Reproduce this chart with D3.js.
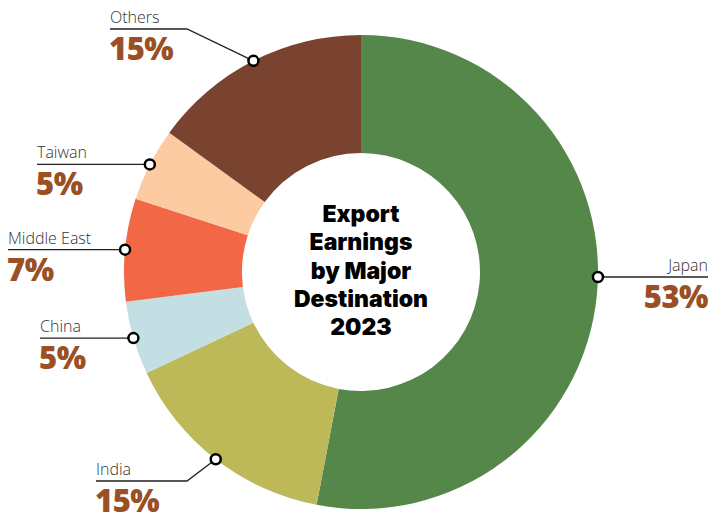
<!DOCTYPE html>
<html>
<head>
<meta charset="utf-8">
<script src="https://cdn.jsdelivr.net/npm/d3@7"></script>
<style>
  body { margin: 0; background: #fff; }
  svg { display: block; }
</style>
</head>
<body>
<script>
var w = 711;
var h = 518;

// data
var destinations = ["Japan", "India", "China", "Middle East", "Taiwan", "Others"];
var shares = [53, 15, 5, 7, 5, 15];
var colours = ["#55874a", "#bdb858", "#c4dfe3", "#f26846", "#fdcba2", "#7a4330"];
var titleLines = ["Export", "Earnings", "by Major", "Destination", "2023"];

// label layout (side, where the text sits, elbow for the leader)
var labelLayout = [
  {side: "right", x: 708, lineY: 277, nudge: -4.2},
  {side: "left", x: 96, lineY: 481, elbow: 187},
  {side: "left", x: 40, lineY: 341},
  {side: "left", x: 8, lineY: 254},
  {side: "left", x: 37, lineY: 164},
  {side: "left", x: 110, lineY: 29, elbow: 187}
];

var cx = 361, cy = 272;
var outerR = 237, innerR = 119;

var svg = d3.select("body")
    .append("svg")
    .attr("width", w)
    .attr("height", h);

var data = destinations.map(function(d, i) {
  return {name: d, value: shares[i], colour: colours[i], layout: labelLayout[i]};
});

var pie = d3.pie()
    .value(function(d) { return d.value; })
    .sort(null);

var arc = d3.arc()
    .innerRadius(innerR)
    .outerRadius(outerR);

var g = svg.append("g")
    .attr("transform", "translate(" + cx + "," + cy + ")");

var arcs = pie(data);

g.selectAll("path")
  .data(arcs)
  .enter()
  .append("path")
  .attr("d", arc)
  .attr("fill", function(d) { return d.data.colour; });

// leader lines + dots
function dotPos(d) {
  var a = (d.startAngle + d.endAngle) / 2 + ((d.data.layout.nudge || 0) * Math.PI / 180);
  return [cx + outerR * Math.sin(a), cy - outerR * Math.cos(a)];
}

var labels = svg.append("g");

arcs.forEach(function(d) {
  var L = d.data.layout;
  var p = dotPos(d);
  var ly = (L.elbow || L.side === "right") ? L.lineY : p[1];
  var dotY = (L.side === "right") ? L.lineY : p[1];
  var pts;
  if (L.side === "right") {
    pts = [[p[0], ly], [L.x, ly]];
  } else if (L.elbow) {
    pts = [[L.x, ly], [L.elbow, ly], [p[0], p[1]]];
  } else {
    pts = [[L.x, ly], [p[0], ly]];
  }

  labels.append("path")
    .attr("d", d3.line()(pts))
    .attr("fill", "none")
    .attr("stroke", "#222")
    .attr("stroke-width", 1.3);

  var anchor = L.side === "right" ? "end" : "start";

  labels.append("text")
    .attr("x", L.x)
    .attr("y", ly - 6)
    .attr("text-anchor", anchor)
    .attr("font-family", "'Open Sans', sans-serif")
    .attr("font-weight", 300)
    .attr("font-size", 16)
    .attr("fill", "#333")
    .text(d.data.name);

  labels.append("text")
    .attr("x", L.x - (anchor === "end" ? 0 : 1))
    .attr("y", ly + 31)
    .attr("text-anchor", anchor)
    .attr("font-family", "'Open Sans', sans-serif")
    .attr("font-weight", 800)
    .attr("font-size", 31)
    .attr("letter-spacing", -0.5)
    .attr("fill", "#9a4f24")
    .text(d.data.value + "%");

  labels.append("circle")
    .attr("cx", p[0])
    .attr("cy", dotY)
    .attr("r", 5)
    .attr("fill", "#fff")
    .attr("stroke", "#000")
    .attr("stroke-width", 2.5);
});

// centre title
svg.append("text")
  .attr("x", cx)
  .attr("y", 222)
  .attr("text-anchor", "middle")
  .attr("font-family", "Inter, sans-serif")
  .attr("font-weight", 900)
  .attr("font-size", 23)
  .attr("fill", "#000")
  .selectAll("tspan")
  .data(titleLines)
  .enter()
  .append("tspan")
  .attr("x", cx)
  .attr("dy", function(d, i) { return i === 0 ? 0 : 28.3; })
  .text(function(d) { return d; });
</script>
</body>
</html>
